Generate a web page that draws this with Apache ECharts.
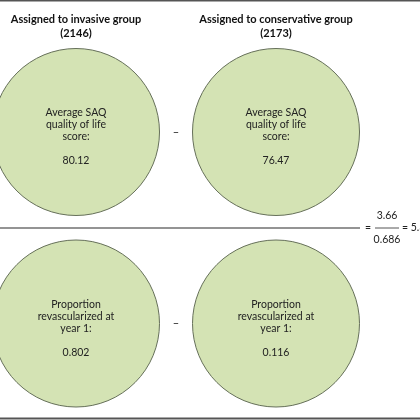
<!DOCTYPE html>
<html>
<head>
<meta charset="utf-8">
<script src="https://cdn.jsdelivr.net/npm/echarts@6/dist/echarts.min.js"></script>
<style>
html,body{margin:0;padding:0;background:#fff;}
#c{width:420px;height:420px;}
</style>
</head>
<body>
<div id="c"></div>
<script>
// ---- data ----
var groups = ['Assigned to invasive group', 'Assigned to conservative group'];
var groupN = [2146, 2173];
var metrics = ['Average SAQ\nquality of life\nscore:', 'Proportion\nrevascularized at\nyear 1:'];
var invasiveValues = ['80.12', '0.802'];
var conservativeValues = ['76.47', '0.116'];
var numerator = '3.66';
var denominator = '0.686';
var result = '5.3';

var seriesValues = [invasiveValues, conservativeValues];
var circleData = [];
for (var g = 0; g < groups.length; g++) {
  for (var m = 0; m < metrics.length; m++) {
    circleData.push({ value: [g, m], label: { formatter: metrics[m] + '\n\n' + seriesValues[g][m] } });
  }
}
var opData = [];
for (var m2 = 0; m2 < metrics.length; m2++) opData.push([0.5, m2]);

var FONT = 'Lato, "Noto Sans", sans-serif';
var chart = echarts.init(document.getElementById('c'), null, { renderer: 'canvas' });
chart.setOption({
  animation: false,
  backgroundColor: '#ffffff',
  grid: { left: 76, top: 132, width: 200, height: 191.5 },
  xAxis: {
    type: 'value', min: 0, max: 1, interval: 1, position: 'top',
    axisLine: { show: false }, axisTick: { show: false }, splitLine: { show: false },
    axisLabel: {
      margin: 92, fontFamily: FONT, fontSize: 11, fontWeight: 'bold', color: '#111',
      lineHeight: 14, align: 'center',
      formatter: function (v) { var i = Math.round(v); return (i === v && groups[i]) ? groups[i] + '\n(' + groupN[i] + ')' : ''; }
    }
  },
  yAxis: {
    type: 'value', min: 0, max: 1, inverse: true, show: false
  },
  graphic: [
    { type: 'line', shape: { x1: 0, y1: 0.75, x2: 420, y2: 0.75 }, style: { stroke: '#555', lineWidth: 1.5 } },
    { type: 'line', shape: { x1: 0, y1: 418.5, x2: 420, y2: 418.5 }, style: { stroke: '#555', lineWidth: 2 } },
    { type: 'line', shape: { x1: 0, y1: 228, x2: 360, y2: 228 }, style: { stroke: '#707070', lineWidth: 1.5 } },
    { type: 'text', x: 368, y: 228, style: { text: '=', align: 'center', verticalAlign: 'middle', font: '10.5px ' + FONT, fill: '#222' } },
    { type: 'text', x: 387, y: 216, style: { text: numerator, align: 'center', verticalAlign: 'middle', font: '10.5px ' + FONT, fill: '#222' } },
    { type: 'line', shape: { x1: 375, y1: 228, x2: 399, y2: 228 }, style: { stroke: '#555', lineWidth: 1 } },
    { type: 'text', x: 387, y: 240, style: { text: denominator, align: 'center', verticalAlign: 'middle', font: '10.5px ' + FONT, fill: '#222' } },
    { type: 'text', x: 402, y: 228, style: { text: '= ' + result, align: 'left', verticalAlign: 'middle', font: '10.5px ' + FONT, fill: '#222' } }
  ],
  series: [
    {
      type: 'scatter', clip: false, symbol: 'circle', symbolSize: 167,
      itemStyle: { color: '#d4e3b4', borderColor: '#66705a', borderWidth: 1, opacity: 1 },
      label: {
        show: true, position: 'inside', offset: [0, 5], fontFamily: FONT, fontSize: 10.5,
        lineHeight: 12, color: '#222', align: 'center'
      },
      emphasis: { disabled: true },
      data: circleData
    },
    {
      type: 'scatter', clip: false, symbolSize: 0,
      label: { show: true, position: 'inside', formatter: '\u2013', fontFamily: FONT, fontSize: 11, fontWeight: 'bold', color: '#222' },
      emphasis: { disabled: true },
      data: opData
    }
  ]
});
</script>
</body>
</html>
